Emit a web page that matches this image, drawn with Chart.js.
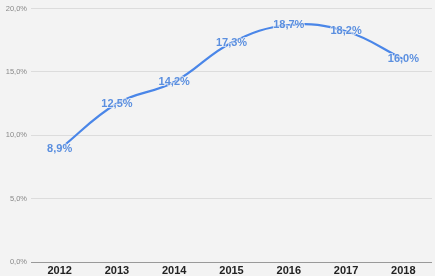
<!DOCTYPE html>
<html>
<head>
<meta charset="utf-8">
<script src="https://cdn.jsdelivr.net/npm/chart.js@4"></script>
<style>
  html, body { margin: 0; padding: 0; background: #f3f3f3; }
  #wrap { width: 435px; height: 276px; }
</style>
</head>
<body>
<div id="wrap"><canvas id="chart"></canvas></div>
<script>
// chart data
const years = ['2012', '2013', '2014', '2015', '2016', '2017', '2018'];
const shares = [8.9, 12.5, 14.2, 17.3, 18.7, 18.2, 16.0];
const yTicks = [0, 5, 10, 15, 20];

function pct(v) {
    return v.toFixed(1).replace('.', ',') + '%';
}

// draws the value label on top of each point
const pointLabels = {
    id: 'pointLabels',
    afterDatasetsDraw(chart) {
        const ctx = chart.ctx;
        const meta = chart.getDatasetMeta(0);
        ctx.save();
        ctx.font = 'bold 11px "Liberation Sans", Arial, sans-serif';
        ctx.textAlign = 'center';
        ctx.textBaseline = 'middle';
        meta.data.forEach((pt, i) => {
            const txt = pct(shares[i]);
            ctx.lineWidth = 2;
            ctx.strokeStyle = 'rgba(243,243,243,0.7)';
            ctx.strokeText(txt, pt.x, pt.y);
            ctx.fillStyle = '#5b8fdf';
            ctx.fillText(txt, pt.x, pt.y);
        });
        ctx.restore();
    }
};

const ctx = document.getElementById('chart').getContext('2d');
new Chart(ctx, {
    type: 'line',
    data: {
        labels: years,
        datasets: [{
            data: shares,
            borderColor: '#4a86e8',
            borderWidth: 2.2,
            tension: 0.4,
            pointRadius: 0,
            fill: false
        }]
    },
    options: {
        responsive: true,
        maintainAspectRatio: false,
        animation: false,
        layout: { padding: { top: 4, right: 3, left: 0, bottom: 0 } },
        plugins: {
            legend: { display: false },
            tooltip: { enabled: false }
        },
        scales: {
            x: {
                offset: true,
                grid: { display: false, drawTicks: false },
                border: { display: false },
                afterFit: scale => { scale.height = 14; },
                ticks: {
                    padding: 2,
                    color: '#222',
                    font: { family: '"Liberation Sans", Arial, sans-serif', size: 11, weight: 'bold' }
                }
            },
            y: {
                min: 0,
                max: 20,
                afterBuildTicks: scale => { scale.ticks = yTicks.map(v => ({ value: v })); },
                afterFit: scale => { scale.width = 31; },
                border: { display: false },
                grid: {
                    color: c => c.tick && c.tick.value === 0 ? '#999' : '#dcdcdc',
                    lineWidth: 1,
                    drawTicks: false
                },
                ticks: {
                    padding: 4,
                    color: '#888',
                    font: { family: '"Liberation Sans", Arial, sans-serif', size: 7.5 },
                    callback: v => pct(v)
                }
            }
        }
    },
    plugins: [pointLabels]
});
</script>
</body>
</html>
